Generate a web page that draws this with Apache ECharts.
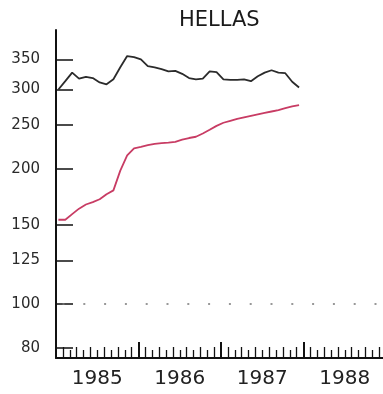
<!DOCTYPE html>
<html><head><meta charset="utf-8">
<script src="https://cdn.jsdelivr.net/npm/echarts@6/dist/echarts.min.js"></script>
<style>html,body{margin:0;padding:0;background:#fff}#c{width:383px;height:394px}</style>
</head><body><div id="c"></div>
<script>
// ---- data ----
const chartTitle = 'HELLAS';
const firstYear = 1985;
const yearLabels = ['1985', '1986', '1987', '1988'];
const yTickLabels = [80, 100, 125, 150, 200, 250, 300, 350];
const referenceLevel = 100;
// monthly observations, Jan 1985 - Dec 1987
const blackSeries = [300, 313, 327, 317, 320, 318, 311, 308, 316, 336, 356, 354,
                     350, 338, 336, 333, 329, 330, 325, 318, 316, 317, 329, 328,
                     316, 315, 315, 316, 313, 321, 327, 331, 327, 326, 312, 303];
const redSeries = [154, 154, 158.5, 163, 166.5, 168.5, 171, 175.5, 179, 198, 214, 222,
                   223.5, 225.5, 227, 228, 228.5, 229.5, 232, 234, 235.5, 239.5, 244, 249,
                   253, 255.5, 258, 260, 262, 264, 266, 268, 270, 272.5, 275, 277];

// ---- build ----
const L10 = Math.log10;
const font = 'DejaVu Sans';
const xMax = 47.56;
const monthPos = blackSeries.map((_, i) => i + 0.35);
const pairs = arr => arr.map((v, i) => [monthPos[i], L10(v)]);
const yearTicks = yearLabels.map((_, i) => i * 12);
const yearLabelPos = yearLabels.map((_, i) => i * 12 + 6);
const oddMonths = [], evenMonths = [];
for (let m = 1; m < 48; m++) {
  if (m % 12 === 0) continue;
  (m % 2 ? oddMonths : evenMonths).push(m);
}
const axisColor = '#111';
function tickAxis(values, len, w) {
  return {
    type: 'value', min: 0, max: xMax, position: 'bottom', gridIndex: 0,
    axisLine: { show: false },
    axisTick: { show: true, inside: true, length: len, customValues: values,
                lineStyle: { color: axisColor, width: w } },
    axisLabel: { show: false }, splitLine: { show: false }
  };
}
const chart = echarts.init(document.getElementById('c'), null, { renderer: 'canvas' });
chart.setOption({
  animation: false,
  backgroundColor: '#fff',
  title: {
    text: chartTitle, left: 174, top: 5,
    textStyle: { fontFamily: font, fontSize: 21, fontWeight: 'normal', color: '#1a1a1a' }
  },
  grid: { left: 56, right: 0, top: 30, bottom: 36 },
  xAxis: [
    {
      type: 'value', min: 0, max: xMax, position: 'bottom',
      axisLine: { show: true, lineStyle: { color: axisColor, width: 2 } },
      axisTick: { show: true, inside: true, length: 16, customValues: yearTicks,
                  lineStyle: { color: axisColor, width: 2 } },
      axisLabel: {
        show: true, customValues: yearLabelPos,
        formatter: v => yearLabels[Math.round((v - 6) / 12)],
        fontFamily: font, fontSize: 20, color: '#222', margin: 11
      },
      splitLine: { show: false }
    },
    tickAxis(oddMonths, 11, 1.3),
    tickAxis(evenMonths, 8, 1.3)
  ],
  yAxis: {
    type: 'value', min: L10(75.9), max: L10(406.7),
    axisLine: { show: true, lineStyle: { color: axisColor, width: 2 } },
    axisTick: { show: true, inside: true, length: 17, customValues: yTickLabels.map(L10),
                lineStyle: { color: axisColor, width: 1.5 } },
    axisLabel: {
      customValues: yTickLabels.map(L10),
      formatter: v => String(Math.round(Math.pow(10, v))),
      fontFamily: font, fontSize: 15, color: '#2a2a2a', margin: 16, padding: [0, 0, 8, 0]
    },
    splitLine: { show: false }
  },
  series: [
    {
      type: 'line', data: pairs(blackSeries), symbol: 'none', xAxisIndex: 0,
      lineStyle: { color: '#2b2b2b', width: 1.8 },
      markLine: {
        silent: true, symbol: 'none', label: { show: false },
        data: [{ yAxis: L10(referenceLevel) }],
        lineStyle: { type: [2, 18.8], dashOffset: 14.3, color: '#777', width: 1.5 }
      }
    },
    {
      type: 'line', data: pairs(redSeries), symbol: 'none', xAxisIndex: 0,
      lineStyle: { color: '#c83c64', width: 1.8 }
    }
  ]
});
</script></body></html>
